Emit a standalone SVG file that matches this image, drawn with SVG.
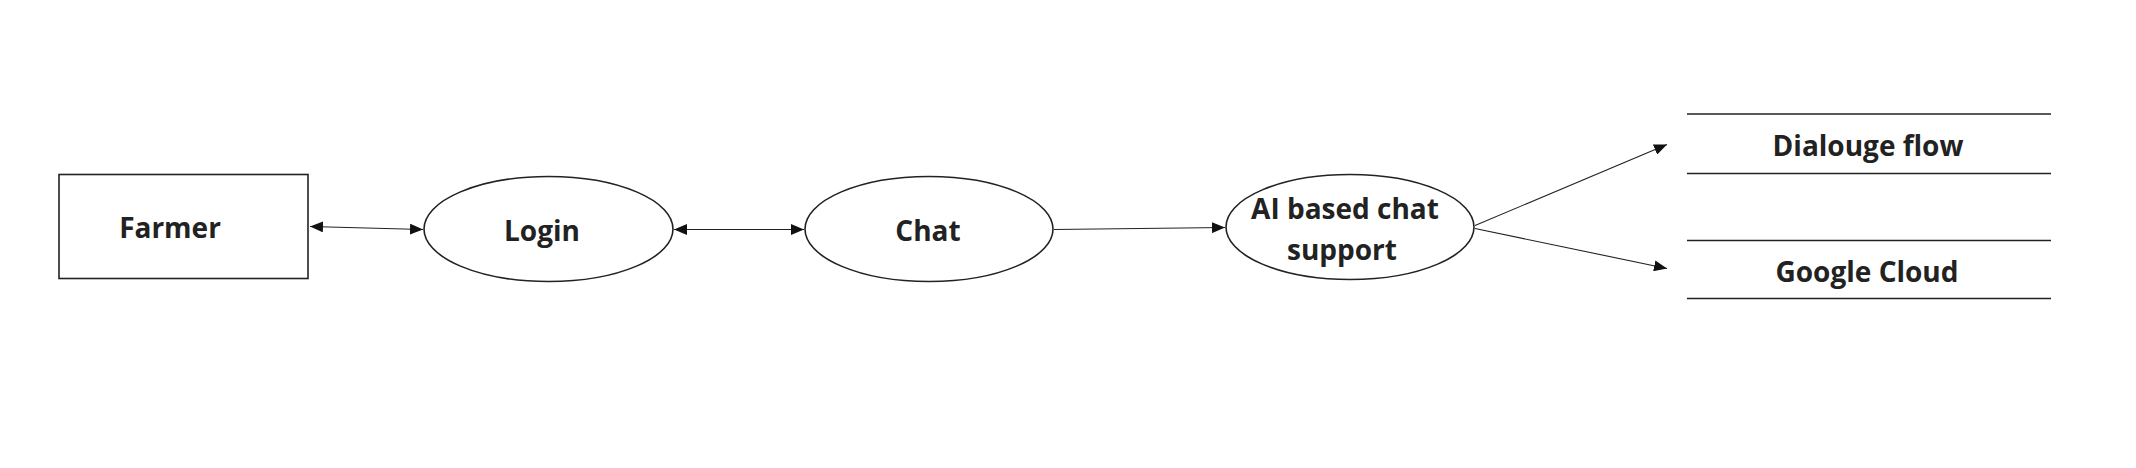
<svg xmlns="http://www.w3.org/2000/svg" width="2136" height="468" viewBox="0 0 2136 468">
<style>
.shape{fill:#fff;stroke:#222;stroke-width:1.6}
.store{stroke:#222;stroke-width:1.6;fill:none}
.lbl{font-family:"Open Sans","Noto Sans","Liberation Sans",sans-serif;font-weight:700;font-size:28px;fill:#222;text-anchor:middle;dominant-baseline:central}
.conn{stroke:#222;stroke-width:1.1;fill:none}
</style>
<defs>
<marker id="ah" viewBox="0 0 13 11" refX="13" refY="5.5" markerWidth="13" markerHeight="11" markerUnits="userSpaceOnUse" orient="auto-start-reverse">
<path d="M0,0 L13,5.5 L0,11 Z" fill="#111"/>
</marker>
</defs>
<rect width="2136" height="468" fill="#fff"/>
<g id="farmer"><rect class="shape" x="59" y="174.5" width="249" height="104"/><text class="lbl" x="170" y="226.5">Farmer</text></g>
<g id="login"><ellipse class="shape" cx="548.5" cy="229" rx="124.5" ry="52.5"/><text class="lbl" x="542" y="229.5">Login</text></g>
<g id="chat"><ellipse class="shape" cx="929" cy="229" rx="124" ry="52.5"/><text class="lbl" x="928" y="229.5">Chat</text></g>
<g id="ai"><ellipse class="shape" cx="1350" cy="227" rx="124" ry="52.5"/><text class="lbl" x="1345" y="207.5">AI based chat</text><text class="lbl" x="1342" y="248.5">support</text></g>
<g id="dialouge"><line class="store" x1="1687" y1="114" x2="2051" y2="114"/><line class="store" x1="1687" y1="173.5" x2="2051" y2="173.5"/><text class="lbl" x="1868" y="144.5">Dialouge flow</text></g>
<g id="google"><line class="store" x1="1687" y1="240.5" x2="2051" y2="240.5"/><line class="store" x1="1687" y1="298.5" x2="2051" y2="298.5"/><text class="lbl" x="1867" y="270.5">Google Cloud</text></g>
<g id="connectors">
<line class="conn" x1="310" y1="226.5" x2="423" y2="229.5" marker-start="url(#ah)" marker-end="url(#ah)"/>
<line class="conn" x1="674" y1="229.5" x2="804" y2="229.5" marker-start="url(#ah)" marker-end="url(#ah)"/>
<line class="conn" x1="1054" y1="229.5" x2="1225" y2="227.5" marker-end="url(#ah)"/>
<line class="conn" x1="1475" y1="225.5" x2="1667" y2="144.5" marker-end="url(#ah)"/>
<line class="conn" x1="1475" y1="228.5" x2="1667" y2="268.5" marker-end="url(#ah)"/>
</g>
</svg>
